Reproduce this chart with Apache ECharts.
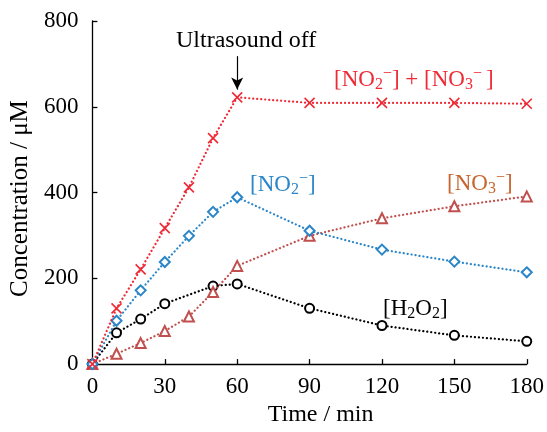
<!DOCTYPE html>
<html><head><meta charset="utf-8">
<script src="https://cdn.jsdelivr.net/npm/echarts@6/dist/echarts.min.js"></script>
<style>html,body{margin:0;padding:0;background:#fff}#c{width:547px;height:432px}</style>
</head><body><div id="c"></div>
<script>
const time = [0, 10, 20, 30, 40, 50, 60, 90, 120, 150, 180];
const sumNOx = [0, 130, 221, 317, 412, 527, 622, 609, 609, 609, 607];
const nitrite = [0, 101, 172, 238, 299, 355, 389, 311, 267, 239, 214];
const nitrate = [0, 24, 49, 77, 111, 168, 229, 299, 340, 368, 391];
const h2o2Time = [0, 10, 20, 30, 50, 60, 90, 120, 150, 180];
const h2o2 = [0, 73, 105, 141, 182, 187, 130, 90, 67, 53];
const xTicks = [0, 30, 60, 90, 120, 150, 180];
const yTicks = [0, 200, 400, 600, 800];

const FONT = '"Liberation Serif", "Times New Roman", serif';
const RED = '#ee2a36', BLUE = '#2a86c8', BROWN = '#c0504d', ORANGE = '#c8642e';
const pairs = (xs, ys) => xs.map((x, i) => [x, ys[i]]);
const crossPath = 'path://M0,0L10,10M10,0L0,10';

function rich(color, size) {
  const s = size || 23, ss = Math.round(s * 0.68);
  return {
    n: {fontSize: s, fontFamily: FONT, fill: color, lineHeight: s + 4, verticalAlign: 'middle'},
    b: {fontSize: ss, fontFamily: FONT, fill: color, lineHeight: ss, verticalAlign: 'bottom'},
    p: {fontSize: ss, fontFamily: FONT, fill: color, lineHeight: ss, verticalAlign: 'top'}
  };
}

const chart = echarts.init(document.getElementById('c'), null, {renderer: 'canvas'});
const dotted = (c) => ({color: c, width: 2.2, type: [0.1, 3.9], cap: 'round'});
chart.setOption({
  animation: false,
  backgroundColor: '#fff',
  grid: {left: 88, right: 16, top: 21, bottom: 62},
  xAxis: {
    type: 'value', min: 0, max: 180, interval: 30,
    name: 'Time / min', nameLocation: 'middle', nameGap: 36,
    nameTextStyle: {fontFamily: FONT, fontSize: 24, color: '#000', padding: [0, 0, 0, 22]},
    axisLine: {lineStyle: {color: '#000', width: 1.3}},
    axisTick: {inside: true, length: 5, lineStyle: {color: '#000', width: 1.3}},
    axisLabel: {fontFamily: FONT, fontSize: 23, color: '#000', margin: 11,
      formatter: v => xTicks.includes(v) ? String(v) : ''},
    splitLine: {show: false}
  },
  yAxis: {
    type: 'value', min: 0, max: 800, interval: 200,
    name: 'Concentration / μM', nameLocation: 'middle', nameGap: 53, nameRotate: 90,
    nameTextStyle: {fontFamily: FONT, fontSize: 25, color: '#000', padding: [0, 12, 0, 0]},
    axisLine: {show: true, lineStyle: {color: '#000', width: 1.3}},
    axisTick: {show: true, inside: true, length: 5, lineStyle: {color: '#000', width: 1.3}},
    axisLabel: {fontFamily: FONT, fontSize: 23, color: '#000', margin: 14,
      formatter: v => yTicks.includes(v) ? String(v) : ''},
    splitLine: {show: false}
  },
  series: [
    {type: 'line', name: 'h2o2', data: pairs(h2o2Time, h2o2), symbol: 'emptyCircle', symbolSize: 9,
      lineStyle: dotted('#000'), itemStyle: {color: '#000', borderWidth: 1.6}, z: 3},
    {type: 'line', name: 'nitrate', data: pairs(time, nitrate), symbol: 'emptyTriangle', symbolSize: 10,
      lineStyle: dotted(BROWN), itemStyle: {color: BROWN, borderWidth: 1.5}, z: 4},
    {type: 'line', name: 'nitrite', data: pairs(time, nitrite), symbol: 'emptyDiamond', symbolSize: 10,
      lineStyle: dotted(BLUE), itemStyle: {color: BLUE, borderWidth: 1.6}, z: 5},
    {type: 'line', name: 'sum', data: pairs(time, sumNOx), symbol: crossPath, symbolSize: 10,
      lineStyle: dotted(RED), itemStyle: {color: RED, borderColor: RED, borderWidth: 1.6}, z: 6,
      markLine: {
        silent: true, symbol: ['none', 'arrow'], symbolSize: [9, 12],
        label: {show: false},
        lineStyle: {color: '#000', width: 1.2, type: 'solid'},
        data: [[{coord: [60, 718]}, {coord: [60, 640]}]]
      }}
  ],
  graphic: [
    {type: 'text', left: 176, top: 29, style: {text: 'Ultrasound off', font: '24px ' + FONT, fill: '#000'}},
    {type: 'text', left: 334, top: 66, style: {text: '{n|[NO}{b|2}{p|−}{n|] + [NO}{b|3}{p|− }{n|]}', rich: rich(RED, 23)}},
    {type: 'text', left: 250, top: 171, style: {text: '{n|[NO}{b|2}{p|−}{n|]}', rich: rich(BLUE, 23)}},
    {type: 'text', left: 447, top: 170, style: {text: '{n|[NO}{b|3}{p|−}{n|]}', rich: rich(ORANGE, 23)}},
    {type: 'text', left: 383, top: 297, style: {text: '{n|[H}{b|2}{n|O}{b|2}{n|]}', rich: rich('#000', 23)}}
  ]
});
</script></body></html>
